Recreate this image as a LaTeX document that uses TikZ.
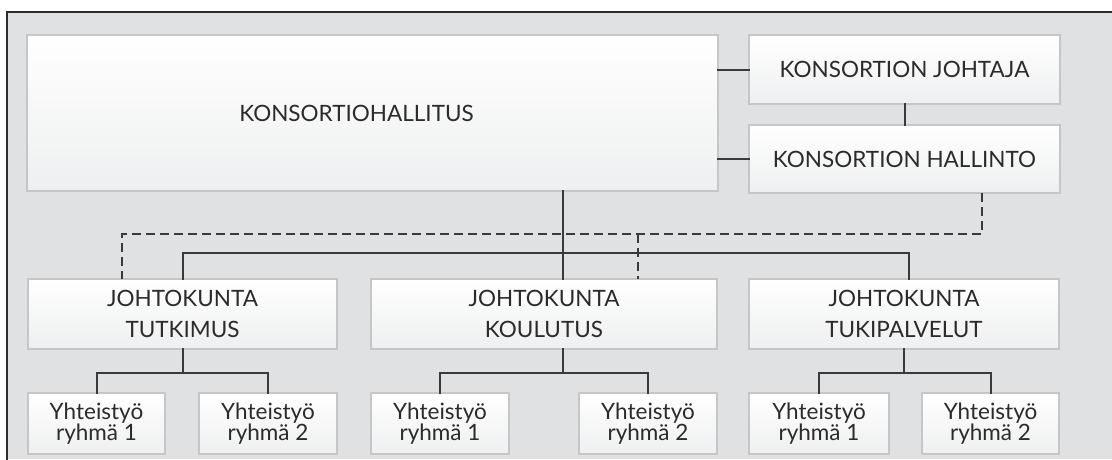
\documentclass[tikz,border=0pt]{standalone}
\usepackage{fontspec}
\setmainfont{Lato}
\begin{document}
\begin{tikzpicture}[x=1pt,y=-1pt,line cap=rect]
\definecolor{custcol_e0_e1_e3}{RGB}{224, 225, 227}
\definecolor{custcol_c4_c6_c8}{RGB}{196, 198, 200}
\definecolor{custcol_ee_ef_f0}{RGB}{238, 239, 240}
\definecolor{custcol_2b_2b_2b}{RGB}{43, 43, 43}
\definecolor{custcol_3a_3a_3a}{RGB}{58, 58, 58}
\tikzset{
  box/.style={draw=custcol_c4_c6_c8, line width=1.5pt, top color=white, bottom color=custcol_ee_ef_f0,
    inner sep=0, outer sep=0, align=center, text=custcol_2b_2b_2b, font=\fontsize{22.5pt}{31pt}\selectfont},
  subbox/.style={box, minimum height=61pt, font=\fontsize{22.5pt}{21pt}\selectfont},
  conn/.style={line width=2pt, custcol_3a_3a_3a},
  dsh/.style={conn, line cap=butt, dash pattern=on 9pt off 5pt}
}
\useasboundingbox (0,0) rectangle (1112,459);
\fill [custcol_e0_e1_e3] (7,12) rectangle (1112,459);
\draw [line width=1.5pt, custcol_2b_2b_2b] (7,459) -- (7,12) -- (1112,12);
% top level
\node[box, minimum width=691pt, minimum height=156pt] (hallitus) at (372.5,113) {\hspace*{-32pt}KONSORTIOHALLITUS};
\node[box, minimum width=311pt, minimum height=69pt] (johtaja) at (904.5,69.5) {KONSORTION JOHTAJA};
\node[box, minimum width=311pt, minimum height=68pt] (hallinto) at (904.5,159) {KONSORTION HALLINTO};
% boards
\node[box, minimum width=309pt, minimum height=70pt] (tutkimus) at (182.5,314) {JOHTOKUNTA\\TUTKIMUS};
\node[box, minimum width=346pt, minimum height=70pt] (koulutus) at (544,314) {JOHTOKUNTA\\KOULUTUS};
\node[box, minimum width=310pt, minimum height=70pt] (tukipalvelut) at (904,314) {JOHTOKUNTA\\TUKIPALVELUT};
% groups
\node[subbox, minimum width=137pt] (tutk_a) at (96.5,423.5) {Yhteistyö\\ryhmä 1};
\node[subbox, minimum width=138pt] (tutk_b) at (268,423.5) {Yhteistyö\\ryhmä 2};
\node[subbox, minimum width=138pt] (koul_a) at (440,423.5) {Yhteistyö\\ryhmä 1};
\node[subbox, minimum width=138pt] (koul_b) at (648,423.5) {Yhteistyö\\ryhmä 2};
\node[subbox, minimum width=140pt] (tuki_a) at (819,423.5) {Yhteistyö\\ryhmä 1};
\node[subbox, minimum width=137pt] (tuki_b) at (990.5,423.5) {Yhteistyö\\ryhmä 2};
% connectors
\draw [conn] (hallitus.east |- johtaja.west) -- (johtaja.west);
\draw [conn] (hallitus.east |- hallinto.west) -- (hallinto.west);
\draw [conn] (johtaja.south) -- (hallinto.north);
\draw [dsh] (hallinto.south -| 982,0) |- (122,234) -- (tutkimus.north -| 122,0);
\draw [dsh] (638,234) -- (koulutus.north -| 638,0);
\draw [conn] (hallitus.south -| 563,0) -- (koulutus.north -| 563,0);
\draw [conn] (tutkimus.north) |- (909,253) -- (tukipalvelut.north -| 909,0);
\draw [conn] (tutkimus.south) -- (tutkimus.south |- 0,373);
\draw [conn] (tutk_a.north) |- (tutkimus.south |- 0,373) -| (tutk_b.north);
\draw [conn] (koulutus.south -| 563,0) -- (563,373);
\draw [conn] (koul_a.north) |- (563,373) -| (koul_b.north);
\draw [conn] (tukipalvelut.south) -- (tukipalvelut.south |- 0,373);
\draw [conn] (tuki_a.north) |- (tukipalvelut.south |- 0,373) -| (tuki_b.north);
\end{tikzpicture}
\end{document}
